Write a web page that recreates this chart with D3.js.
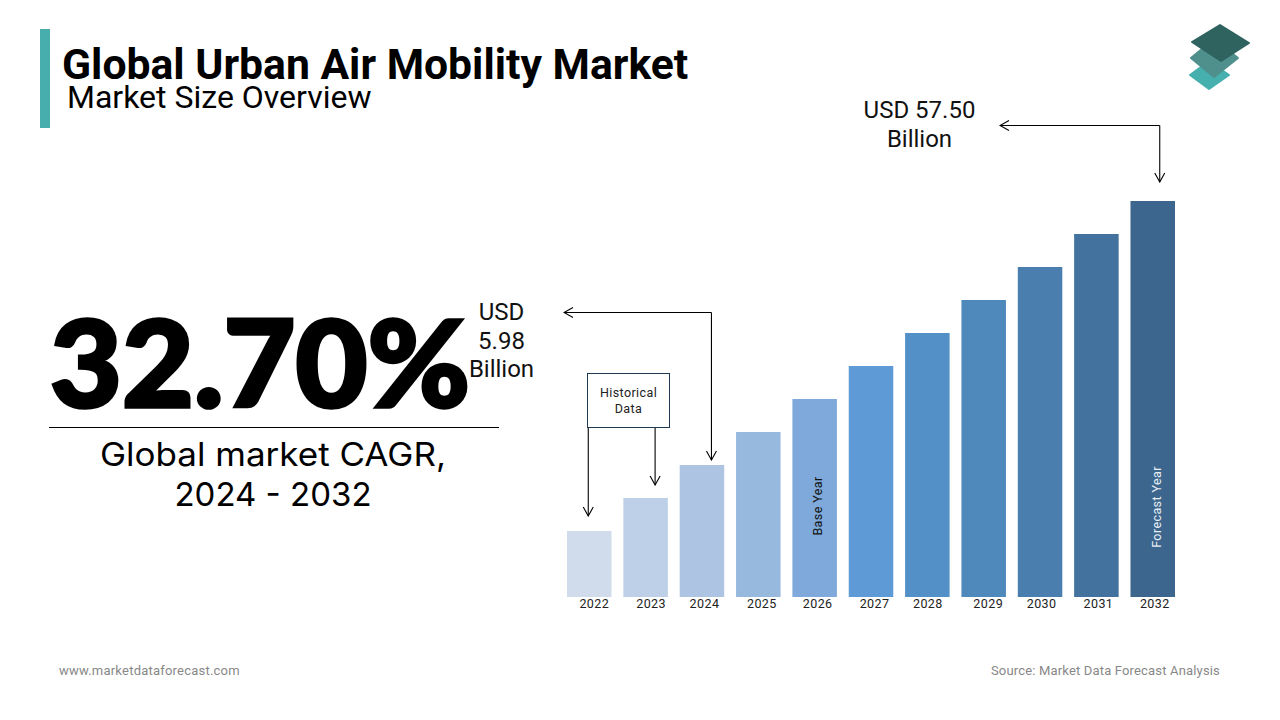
<!DOCTYPE html>
<html>
<head>
<meta charset="utf-8">
<script src="https://cdn.jsdelivr.net/npm/d3@7"></script>
<style>
  html, body { margin: 0; padding: 0; background: #fff; }
  text { font-family: Roboto, sans-serif; fill: #000; }
  .axis .domain, .axis line { display: none; }
  .axis text { font-size: 12.5px; fill: #222; letter-spacing: .4px; }
  .note { font-size: 24px; text-anchor: middle; fill: #111; }
  .arrow { fill: none; stroke: #000; stroke-width: 1.1; }
</style>
</head>
<body>
<svg id="chart" width="1280" height="720"></svg>
<script>
const years = ['2022', '2023', '2024', '2025', '2026', '2027', '2028', '2029', '2030', '2031', '2032']
// the bars are drawn as even steps, they are not proportional to the USD labels
const barValues = [2, 3, 4, 5, 6, 7, 8, 9, 10, 11, 12]
const barColors = ['#d0dcec', '#bed0e8', '#adc5e3', '#98b9de', '#7ea9da', '#5d9ad6', '#5490c8', '#4f88bb', '#4a7eae', '#43729f', '#3c668d']
// tick labels sit a bit off centre in the original
const tickNudge = [5, 5.5, 2.5, 3.5, 3, 3.5, 0.5, 4.5, 1.5, 2, 2]

const svg = d3.select('#chart')

const x = d3.scaleBand()
  .domain(years)
  .range([567, 1175])
  .paddingInner(0.21)

const y = d3.scaleLinear()
  .domain([0, 12])
  .range([597, 201])

const color = d3.scaleOrdinal().domain(years).range(barColors)

const center = d => x(d) + x.bandwidth() / 2

// Header
svg.append('rect').attr('x', 40).attr('y', 29).attr('width', 10).attr('height', 99).attr('fill', '#47aead')

svg.append('text')
  .attr('x', 62).attr('y', 79)
  .style('font-size', '42.7px').style('font-weight', 700)
  .text('Global Urban Air Mobility Market')

svg.append('text')
  .attr('x', 67).attr('y', 108)
  .style('font-size', '32px')
  .text('Market Size Overview')

// Logo
const logo = [
  { c: '#45b0ad', p: [[1209, 61], [1229, 75], [1209, 89], [1190, 75]] },
  { c: '#4f8f8c', p: [[1214, 39], [1238, 58], [1214, 77], [1191, 58]] },
  { c: '#2f6360', p: [[1220, 25], [1249, 43], [1221, 61], [1192, 42]] }
]
svg.append('g').selectAll('path')
  .data(logo)
  .join('path')
  .attr('d', d => d3.line()(d.p) + 'Z')
  .attr('fill', d => d.c)
  .attr('stroke', d => d.c)
  .attr('stroke-width', 2)
  .attr('stroke-linejoin', 'round')

// Left panel
svg.append('text')
  .attr('x', 50).attr('y', 406.5)
  .attr('textLength', 420)
  .attr('lengthAdjust', 'spacingAndGlyphs')
  .style('font-family', 'Lato, sans-serif')
  .style('font-size', '121px').style('font-weight', 900)
  .style('stroke', '#000').style('stroke-width', 3.5)
  .text('32.70%')

svg.append('line')
  .attr('x1', 49).attr('x2', 499).attr('y1', 427.5).attr('y2', 427.5)
  .attr('stroke', '#000').attr('stroke-width', 1.2)

svg.append('text')
  .attr('x', 100).attr('y', 466)
  .attr('textLength', 346)
  .attr('lengthAdjust', 'spacingAndGlyphs')
  .style('font-family', 'Inter, sans-serif')
  .style('font-size', '33px')
  .text('Global market CAGR,')

svg.append('text')
  .attr('x', 273).attr('y', 505.5)
  .attr('text-anchor', 'middle')
  .style('font-family', 'Inter, sans-serif')
  .style('font-size', '33px')
  .text('2024 - 2032')

// Bars
svg.append('g').selectAll('rect')
  .data(years)
  .join('rect')
  .attr('x', d => x(d))
  .attr('y', (d, i) => y(barValues[i]))
  .attr('width', x.bandwidth())
  .attr('height', (d, i) => y(0) - y(barValues[i]))
  .attr('fill', d => color(d))

const axis = svg.append('g')
  .attr('class', 'axis')
  .attr('transform', `translate(0,${y(0)})`)
  .call(d3.axisBottom(x).tickSize(0).tickPadding(0))

axis.selectAll('text')
  .attr('dx', (d, i) => tickNudge[i])
  .attr('dy', 11)

// Rotated labels inside the bars
const inBar = (year, label, fill, cy, shift) => {
  svg.append('text')
    .attr('transform', `translate(${center(year) + shift},${cy}) rotate(-90)`)
    .attr('text-anchor', 'middle')
    .style('font-size', '12.5px')
    .style('letter-spacing', '.4px')
    .style('fill', fill)
    .text(label)
}
inBar('2026', 'Base Year', '#111', 506, 7.5)
inBar('2032', 'Forecast Year', '#e8eef5', 507, 8.5)

// Arrows
svg.append('defs').append('marker')
  .attr('id', 'head')
  .attr('viewBox', '-10 -6 11 12')
  .attr('refX', 0).attr('refY', 0)
  .attr('markerUnits', 'userSpaceOnUse')
  .attr('markerWidth', 11).attr('markerHeight', 12)
  .attr('orient', 'auto')
  .append('path')
  .attr('d', 'M-9,-5L0,0L-9,5')
  .attr('fill', 'none').attr('stroke', '#000').attr('stroke-width', 1.1)

const arrow = pts => svg.append('path')
  .attr('class', 'arrow')
  .attr('d', d3.line()(pts))
  .attr('marker-end', 'url(#head)')

arrow([[center('2022') - 1, 427], [center('2022') - 1, 516]])
arrow([[center('2023') + 9.5, 427], [center('2023') + 9.5, 485]])
arrow([[center('2024') + 9.5, 312.5], [center('2024') + 9.5, 460]])
arrow([[center('2024') + 9.5, 312.5], [564, 312.5]])
arrow([[center('2032') + 7, 125.5], [center('2032') + 7, 182]])
arrow([[center('2032') + 7, 125.5], [1000, 125.5]])

// Historical data box
svg.append('rect')
  .attr('x', 587.5).attr('y', 373.5).attr('width', 82).attr('height', 54)
  .attr('fill', '#fff').attr('stroke', '#1f3a50').attr('stroke-width', 1)

svg.selectAll('.hist')
  .data(['Historical', 'Data'])
  .join('text')
  .attr('class', 'hist')
  .attr('x', 628.5)
  .attr('y', (d, i) => 397 + i * 16)
  .attr('text-anchor', 'middle')
  .style('font-size', '12.5px')
  .style('letter-spacing', '.4px')
  .style('fill', '#222')
  .text(d => d)

// USD callouts
svg.selectAll('.usd2024')
  .data(['USD', '5.98', 'Billion'])
  .join('text')
  .attr('class', 'usd2024 note')
  .attr('x', 501.5)
  .attr('y', (d, i) => 320 + i * 28.5)
  .text(d => d)

svg.selectAll('.usd2032')
  .data(['USD 57.50', 'Billion'])
  .join('text')
  .attr('class', 'usd2032 note')
  .attr('x', 919.5)
  .attr('y', (d, i) => 118 + i * 29)
  .text(d => d)

// Footer
svg.append('text')
  .attr('x', 59).attr('y', 675)
  .style('font-size', '13px').style('letter-spacing', '.22px').style('fill', '#888')
  .text('www.marketdataforecast.com')

svg.append('text')
  .attr('x', 1220).attr('y', 675)
  .attr('text-anchor', 'end')
  .style('font-size', '13px').style('letter-spacing', '.17px').style('fill', '#888')
  .text('Source: Market Data Forecast Analysis')
</script>
</body>
</html>
